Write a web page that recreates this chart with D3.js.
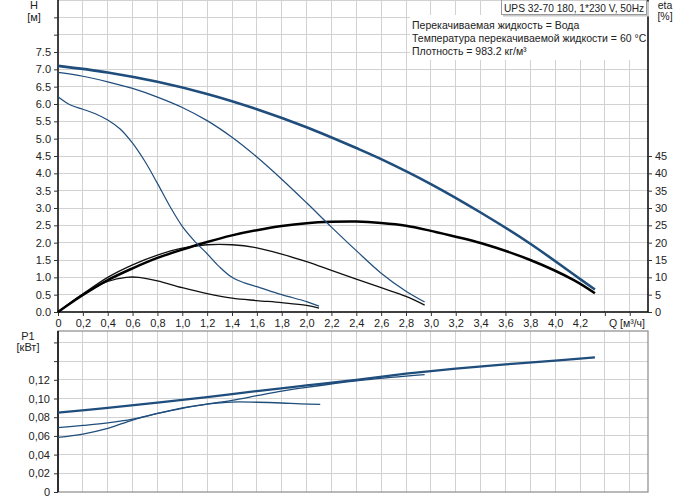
<!DOCTYPE html>
<html><head><meta charset="utf-8">
<script src="https://cdn.jsdelivr.net/npm/d3@7"></script>
<style>body{margin:0;background:#fff}svg{display:block;font-family:"Liberation Sans",Arial,sans-serif}</style>
</head><body><svg id="c" width="691" height="500"></svg>
<script>
// ---- data ----
const qTicks = [0,0.2,0.4,0.6,0.8,1.0,1.2,1.4,1.6,1.8,2.0,2.2,2.4,2.6,2.8,3.0,3.2,3.4,3.6,3.8,4.0,4.2];
const hTicks = [0,0.5,1,1.5,2,2.5,3,3.5,4,4.5,5,5.5,6,6.5,7,7.5];
const etaTicks = [0,5,10,15,20,25,30,35,40,45];
const pTicks = [0,0.02,0.04,0.06,0.08,0.10,0.12];

const qH3 = [0,0.4,0.8,1.2,1.6,2.0,2.4,2.6,3.0,3.4,3.8,4.15,4.32];
const H3  = [7.10,6.91,6.64,6.29,5.85,5.33,4.73,4.41,3.69,2.87,1.97,1.08,0.65];
const qH2 = [0,0.2,0.4,0.6,0.8,1.0,1.2,1.4,1.6,1.8,2.0,2.2,2.4,2.6,2.8,2.95];
const H2  = [6.91,6.80,6.64,6.45,6.20,5.90,5.52,5.04,4.47,3.83,3.15,2.45,1.77,1.12,0.60,0.29];
const qH1 = [0,0.1,0.2,0.3,0.4,0.5,0.6,0.7,0.8,0.9,1.0,1.1,1.2,1.3,1.4,1.5,1.6,1.8,2.0,2.1];
const H1  = [6.21,5.97,5.85,5.72,5.54,5.28,4.87,4.34,3.71,3.05,2.47,2.04,1.68,1.30,1.00,0.84,0.73,0.50,0.30,0.17];

const qE3 = [0,0.2,0.4,0.6,0.8,1.0,1.2,1.4,1.6,1.8,2.0,2.2,2.4,2.6,2.8,3.0,3.4,3.8,4.15,4.32];
const E3  = [0,4.9,9.2,12.6,15.6,18.0,20.2,22.1,23.6,24.8,25.6,26.0,26.1,25.7,24.9,23.4,19.9,15.0,9.2,5.4];
const qE2 = [0,0.2,0.4,0.6,0.8,1.0,1.2,1.4,1.6,1.8,2.0,2.2,2.4,2.6,2.8,2.95];
const E2  = [0,5.2,10.0,13.6,16.4,18.4,19.4,19.4,18.5,16.7,14.5,12.0,9.5,7.0,4.5,2.0];
const qE1 = [0,0.2,0.4,0.55,0.65,0.8,1.0,1.2,1.4,1.6,1.8,2.0,2.1];
const E1  = [0,5.2,8.8,10.0,10.0,9.0,7.0,5.3,4.0,3.3,2.7,1.9,1.1];

const qP3 = [0,0.4,0.8,1.2,1.6,2.0,2.4,2.8,3.2,3.6,4.0,4.32];
const P3  = [0.085,0.090,0.0955,0.1015,0.108,0.114,0.120,0.1265,0.132,0.1365,0.1405,0.144];
const qP2 = [0,0.2,0.4,0.6,0.8,1.0,1.2,1.4,1.6,1.8,2.0,2.4,2.8,2.95];
const P2  = [0.0688,0.0712,0.0740,0.0780,0.0840,0.0895,0.0940,0.0980,0.1030,0.1080,0.1120,0.1190,0.1240,0.1255];
const qP1 = [0,0.2,0.4,0.6,0.8,1.0,1.2,1.4,1.6,1.8,1.95,2.11];
const P1  = [0.0585,0.062,0.068,0.077,0.084,0.0900,0.0940,0.0962,0.0960,0.0952,0.0942,0.0938];

const fmtComma = d => d === 0 ? "0" : d3.format(".1f")(d).replace(".", ",");
const fmtP = d => d === 0 ? "0" : d3.format(".2f")(d).replace(".", ",");

// ---- scales ----
const svg = d3.select("#c");
const L = 58, R = 648, T1 = 0, B1 = 312, T2 = 331, B2 = 492;
const x = d3.scaleLinear().domain([0, 4.747]).range([L, R]);
const yH = d3.scaleLinear().domain([0, 9]).range([B1, T1]);
const yE = d3.scaleLinear().domain([0, 90]).range([B1, T1]);
const yP = d3.scaleLinear().domain([0, 0.1722]).range([B2, T2]);
const blue = "#1f4d7c", grid = "#d2d2d2", ink = "#222";

// ---- grids ----
const gridQ = d3.range(1, 24).map(i => i * 0.2);
const g = svg.append("g");
g.selectAll(".vg1").data(gridQ).join("line")
  .attr("x1", d => x(d)).attr("x2", d => x(d)).attr("y1", T1).attr("y2", B1)
  .attr("stroke", grid).attr("stroke-width", 1).attr("shape-rendering","crispEdges");
g.selectAll(".hg1").data(d3.range(1, 19).map(i => i * 0.5)).join("line")
  .attr("x1", L).attr("x2", R).attr("y1", d => yH(d)).attr("y2", d => yH(d))
  .attr("stroke", grid).attr("stroke-width", 1).attr("shape-rendering","crispEdges");
g.selectAll(".vg2").data(gridQ).join("line")
  .attr("x1", d => x(d)).attr("x2", d => x(d)).attr("y1", T2).attr("y2", B2)
  .attr("stroke", grid).attr("shape-rendering","crispEdges");
g.selectAll(".hg2").data(d3.range(1, 9).map(i => i * 0.02)).join("line")
  .attr("x1", L).attr("x2", R).attr("y1", d => yP(d)).attr("y2", d => yP(d))
  .attr("stroke", grid).attr("shape-rendering","crispEdges");

// info box background
svg.append("rect").attr("x", 410).attr("y", 15).attr("width", R - 410).attr("height", 45).attr("fill", "#fff");

// ---- axes top ----
const axH = d3.axisLeft(yH).tickValues(d3.range(0, 18).map(i => i * 0.5)).tickSize(4).tickPadding(3)
  .tickFormat(d => d <= 7.5 ? d3.format(".1f")(d) : "");
const gH = svg.append("g").attr("transform", `translate(${L},0)`).call(axH);
const axE = d3.axisRight(yE).tickValues(etaTicks).tickSize(4).tickPadding(3).tickFormat(d3.format("d"));
const gE = svg.append("g").attr("transform", `translate(${R},0)`).call(axE);
const axQ = d3.axisBottom(x).tickValues(d3.range(0, 24).map(i => i * 0.2)).tickSize(4).tickPadding(3)
  .tickFormat(d => qTicks.some(t => Math.abs(t - d) < 1e-6) ? fmtComma(d) : "");
const gQ = svg.append("g").attr("transform", `translate(0,${B1})`).call(axQ);
[gH, gE, gQ].forEach(a => {
  a.select(".domain").attr("stroke", "#000").attr("stroke-width", 1.5);
  a.selectAll(".tick line").attr("stroke", "#333");
  a.selectAll("text").attr("font-size", 11).attr("fill", ink).attr("font-family", '"Liberation Sans",Arial,sans-serif');
});
gE.select(".domain").attr("d", `M0,${T1}V${B1}`);
gH.select(".domain").attr("d", `M0,${T1}V${B1}`);
gQ.select(".domain").attr("d", `M${L},0H${R}`);

// ---- bottom plot frame and axis ----
svg.append("rect").attr("x", L).attr("y", T2).attr("width", R - L).attr("height", B2 - T2)
  .attr("fill", "none").attr("stroke", "#8a8a8a").attr("stroke-width", 1.2);
const axP = d3.axisLeft(yP).tickValues(d3.range(0, 9).map(i => i * 0.02)).tickSize(4).tickPadding(4)
  .tickFormat(d => d <= 0.1201 ? fmtP(d) : "");
const gP = svg.append("g").attr("transform", `translate(${L},0)`).call(axP);
gP.select(".domain").attr("d", `M0,${T2}V${B2}`).attr("stroke", "#000").attr("stroke-width", 1.5);
gP.selectAll(".tick line").attr("stroke", "#333");
gP.selectAll("text").attr("font-size", 11).attr("fill", ink).attr("font-family", '"Liberation Sans",Arial,sans-serif');

// ---- curves ----
const mk = (xs, ys) => xs.map((q, i) => [q, ys[i]]);
const cv = d3.curveCatmullRom.alpha(0.5);
const lineH = d3.line().x(d => x(d[0])).y(d => yH(d[1])).curve(cv);
const lineE = d3.line().x(d => x(d[0])).y(d => yE(d[1])).curve(cv);
const lineP = d3.line().x(d => x(d[0])).y(d => yP(d[1])).curve(cv);
const draw = (gen, data, color, w) => svg.append("path").attr("d", gen(data))
  .attr("fill", "none").attr("stroke", color).attr("stroke-width", w).attr("stroke-linejoin", "round");

draw(lineE, mk(qE1, E1), "#111", 1.3);
draw(lineE, mk(qE2, E2), "#111", 1.3);
draw(lineE, mk(qE3, E3), "#000", 2.5);
draw(lineH, mk(qH1, H1), blue, 1.2);
draw(lineH, mk(qH2, H2), blue, 1.2);
draw(lineH, mk(qH3, H3), blue, 2.6);
draw(lineP, mk(qP1, P1), blue, 1.3);
draw(lineP, mk(qP2, P2), blue, 1.3);
draw(lineP, mk(qP3, P3), blue, 2.3);

// ---- labels ----
const txt = (s, xx, yy, anchor, size) => svg.append("text").attr("x", xx).attr("y", yy)
  .attr("text-anchor", anchor || "start").attr("font-size", size || 11).attr("fill", ink).text(s);
txt("H", 34, 9, "middle");
txt("[м]", 34, 21, "middle");
txt("eta", 665, 9, "middle", 10.5);
txt("[%]", 665, 20, "middle", 10.5);
txt("P1", 28, 340, "middle");
txt("[кВт]", 28, 351, "middle");
txt("Q [м³/ч]", 627, 327, "middle", 10.5);

// title box
svg.append("rect").attr("x", 503).attr("y", 1.5).attr("width", 146).attr("height", 15)
  .attr("fill", "#c8c8c8");
svg.append("rect").attr("x", 501.5).attr("y", 0).attr("width", 145).attr("height", 14.5)
  .attr("fill", "#fff").attr("stroke", "#9a9a9a").attr("stroke-width", 1);
txt("UPS 32-70 180, 1*230 V, 50Hz", 504, 11.5, "start", 10.2);
txt("Перекачиваемая жидкость = Вода", 412, 29, "start", 10.5);
txt("Температура перекачиваемой жидкости = 60 °C", 412, 42, "start", 10.5);
txt("Плотность = 983.2 кг/м³", 412, 55, "start", 10.5);
</script></body></html>
